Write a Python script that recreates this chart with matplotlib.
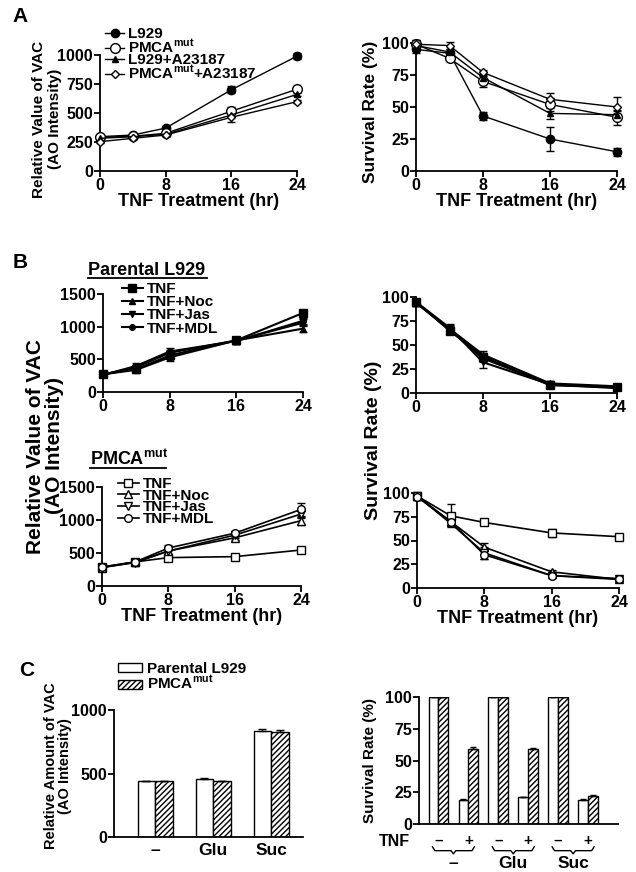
import numpy as np
import matplotlib
matplotlib.use('Agg')
import matplotlib.pyplot as plt
from matplotlib.lines import Line2D
from matplotlib.patches import Patch

plt.rcParams['font.family'] = ['Liberation Sans', 'DejaVu Sans']
plt.rcParams['font.weight'] = 'bold'
plt.rcParams['axes.labelweight'] = 'bold'
plt.rcParams['mathtext.fontset'] = 'custom'
plt.rcParams['mathtext.rm'] = 'Liberation Sans'
plt.rcParams['mathtext.bf'] = 'Liberation Sans:bold'
plt.rcParams['axes.linewidth'] = 1.3
plt.rcParams['hatch.linewidth'] = 1.0

MUT = r'PMCA$^{\mathregular{mut}}$'

# ---------------- data ----------------
hours = [0, 4, 8, 16, 24]

# A: VAC (AO intensity)
a_vac_l929 = [296, 310, 370, 700, 990]
a_vac_l929_err = [10, 10, 15, 30, 25]
a_vac_pmca = [290, 300, 325, 515, 705]
a_vac_pmca_err = [10, 10, 10, 40, 15]
a_vac_l929_a23 = [282, 296, 316, 483, 660]
a_vac_l929_a23_err = [10, 10, 10, 20, 15]
a_vac_pmca_a23 = [253, 282, 310, 463, 598]
a_vac_pmca_a23_err = [10, 10, 10, 40, 10]

# A: survival (%)
a_sv_l929 = [95, 92, 43, 25, 15]
a_sv_l929_err = [3, 2, 3, 9, 3]
a_sv_pmca = [99, 88, 70, 52, 42]
a_sv_pmca_err = [3, 2, 4, 5, 6]
a_sv_l929_a23 = [98, 93, 73, 45, 44]
a_sv_l929_a23_err = [3, 2, 3, 4, 3]
a_sv_pmca_a23 = [99, 98, 77, 56, 50]
a_sv_pmca_a23_err = [3, 3, 2, 5, 8]

# B: parental L929
bp_vac_tnf = [276, 350, 560, 790, 1210]
bp_vac_noc = [270, 340, 530, 790, 970]
bp_vac_jas = [265, 380, 600, 790, 1060]
bp_vac_mdl = [260, 400, 620, 780, 1090]
bp_vac_err = [25, 40, 50, 50, 50]

bp_sv_tnf = [95, 65, 38, 8, 6]
bp_sv_noc = [94, 67, 40, 10, 7]
bp_sv_jas = [95, 68, 32, 9, 6]
bp_sv_mdl = [94, 66, 36, 9, 5]
bp_sv_err = [3, 4, 4, 2, 2]
bp_sv_jas_err = [3, 4, 6, 2, 2]

# B: PMCA mut
bm_vac_tnf = [288, 365, 430, 445, 545]
bm_vac_tnf_err = [15, 15, 20, 15, 20]
bm_vac_noc = [280, 360, 530, 730, 990]
bm_vac_jas = [280, 355, 530, 770, 1090]
bm_vac_mdl = [285, 365, 575, 800, 1160]
bm_vac_err = [15, 15, 50, 40, 60]
bm_vac_mdl_err = [15, 15, 50, 40, 100]

bm_sv_tnf = [97, 76, 69, 58, 54]
bm_sv_tnf_err = [2, 12, 2, 4, 2]
bm_sv_noc = [97, 70, 43, 17, 9]
bm_sv_jas = [97, 68, 37, 13, 10]
bm_sv_jas_err = [2, 3, 6, 2, 2]
bm_sv_mdl = [96, 70, 35, 13, 9]

# C: sugars
c_groups = ['\u2013', 'Glu', 'Suc']
c_vac_parental = [441, 459, 835]
c_vac_parental_err = [3, 5, 15]
c_vac_pmca = [441, 441, 827]
c_vac_pmca_err = [3, 3, 15]

c_tnf = ['\u2013', '+', '\u2013', '+', '\u2013', '+']
c_sv_parental = [100, 19, 100, 21, 100, 19]
c_sv_parental_err = [0, 1, 0, 0.5, 0, 0.5]
c_sv_pmca = [100, 59, 100, 59, 100, 22]
c_sv_pmca_err = [0, 2, 0, 0.5, 0, 0.5]

# ---------------- figure ----------------
W, H = 636, 872
fig = plt.figure(figsize=(W / 100, H / 100), dpi=100)
BOLD = dict(fontweight='bold')
TICK = 11.5


def box(x0, y0, x1, y1):
    return fig.add_axes([x0 / W, 1 - y1 / H, (x1 - x0) / W, (y1 - y0) / H])


def ticks_bold(ax):
    for t in ax.get_xticklabels() + ax.get_yticklabels():
        t.set_fontweight('bold')


def style(ax, yticks, xticks=(0, 8, 16, 24)):
    for s in ['top', 'right']:
        ax.spines[s].set_visible(False)
    ax.tick_params(direction='out', length=4, width=1.3, labelsize=TICK, pad=1)
    ax.set_yticks(yticks)
    if xticks is not None:
        ax.set_xticks(xticks)
        ax.set_xlim(0, 24)
    ax.set_ylim(yticks[0], yticks[-1])
    ticks_bold(ax)


def series(ax, y, e, marker, filled, ms=6, lw=1.0):
    ax.errorbar(hours, y, yerr=e, marker=marker, color='black',
                mfc='black' if filled else 'white', mec='black', ms=ms,
                lw=lw, elinewidth=1, capsize=3, clip_on=False, zorder=3)


def handle(marker, filled, ms=6, lw=1.0):
    return Line2D([], [], color='black', marker=marker, ms=ms, lw=lw,
                  mfc='black' if filled else 'white', mec='black')


def legend(handles, labels, x, y, hl=1.25, sp=-0.2):
    fig.legend(handles, labels, loc='upper left', bbox_to_anchor=(x / W, 1 - y / H),
               frameon=False, prop=dict(size=11, weight='bold'), handlelength=hl,
               handletextpad=0.25, labelspacing=sp, borderpad=0, borderaxespad=0)


def ylabel(text, x, y, size, ls=1.0):
    fig.text(x / W, 1 - y / H, text, rotation=90, ha='center', va='center',
             fontsize=size, linespacing=ls, multialignment='center', **BOLD)


def xlabel(ax):
    ax.set_xlabel('TNF Treatment (hr)', fontsize=13, labelpad=0, **BOLD)


# ---- A left
ax = box(100, 55, 297, 171)
style(ax, [0, 250, 500, 750, 1000])
series(ax, a_vac_l929, a_vac_l929_err, 'o', True)
series(ax, a_vac_pmca, a_vac_pmca_err, 'o', False, ms=7)
series(ax, a_vac_l929_a23, a_vac_l929_a23_err, '^', True, ms=5)
series(ax, a_vac_pmca_a23, a_vac_pmca_a23_err, 'D', False, ms=4.5)
xlabel(ax)
legend([handle('o', True), handle('o', False, 7), handle('^', True, 5), handle('D', False, 4.5)],
       ['L929', MUT, 'L929+A23187', MUT + '+A23187'], 105, 27)
ylabel('Relative Value of VAC\n(AO Intensity)', 47, 119, 11, 1.25)

# ---- A right
ax = box(416, 43, 617, 171)
style(ax, [0, 25, 50, 75, 100])
series(ax, a_sv_l929, a_sv_l929_err, 'o', True)
series(ax, a_sv_pmca, a_sv_pmca_err, 'o', False, ms=7)
series(ax, a_sv_l929_a23, a_sv_l929_a23_err, '^', True, ms=5)
series(ax, a_sv_pmca_a23, a_sv_pmca_a23_err, 'D', False, ms=4.5)
xlabel(ax)
ylabel('Survival Rate (%)', 371, 112, 12.5)

# ---- B parental left
ax = box(103, 294, 303, 392)
style(ax, [0, 500, 1000, 1500])
series(ax, bp_vac_tnf, bp_vac_err, 's', True, ms=5.5, lw=1.5)
series(ax, bp_vac_noc, bp_vac_err, '^', True, ms=5, lw=1.5)
series(ax, bp_vac_jas, bp_vac_err, 'v', True, ms=5, lw=1.5)
series(ax, bp_vac_mdl, bp_vac_err, 'o', True, ms=4, lw=1.5)
legend([handle('s', True, 5.5, 1.5), handle('^', True, 5, 1.5), handle('v', True, 5, 1.5),
        handle('o', True, 4, 1.5)],
       ['TNF', 'TNF+Noc', 'TNF+Jas', 'TNF+MDL'], 122, 282, hl=1.35, sp=-0.05)

# ---- B parental right
ax = box(416, 297, 617, 393)
style(ax, [0, 25, 50, 75, 100])
series(ax, bp_sv_tnf, bp_sv_err, 's', True, ms=5.5, lw=1.5)
series(ax, bp_sv_noc, bp_sv_err, '^', True, ms=5, lw=1.5)
series(ax, bp_sv_jas, bp_sv_jas_err, 'v', True, ms=5, lw=1.5)
series(ax, bp_sv_mdl, bp_sv_err, 'o', True, ms=4, lw=1.5)

# ---- B PMCA left
ax = box(102, 487, 301, 586)
style(ax, [0, 500, 1000, 1500])
series(ax, bm_vac_tnf, bm_vac_tnf_err, 's', False, ms=6, lw=1.2)
series(ax, bm_vac_noc, bm_vac_err, '^', False, ms=6, lw=1.2)
series(ax, bm_vac_jas, bm_vac_err, 'v', False, ms=6, lw=1.2)
series(ax, bm_vac_mdl, bm_vac_mdl_err, 'o', False, ms=5.5, lw=1.2)
xlabel(ax)
legend([handle('s', False, 6, 1.2), handle('^', False, 6, 1.2), handle('v', False, 6, 1.2),
        handle('o', False, 5.5, 1.2)],
       ['TNF', 'TNF+Noc', 'TNF+Jas', 'TNF+MDL'], 118, 477, hl=1.35, sp=-0.15)

# ---- B PMCA right
ax = box(417, 493, 619, 588)
style(ax, [0, 25, 50, 75, 100])
series(ax, bm_sv_tnf, bm_sv_tnf_err, 's', False, ms=6, lw=1.2)
series(ax, bm_sv_noc, bp_sv_err, '^', False, ms=6, lw=1.2)
series(ax, bm_sv_jas, bm_sv_jas_err, 'v', False, ms=6, lw=1.2)
series(ax, bm_sv_mdl, bp_sv_err, 'o', False, ms=5.5, lw=1.2)
xlabel(ax)

ylabel('Relative Value of VAC\n(AO Intensity)', 45, 446, 15)
ylabel('Survival Rate (%)', 374, 440, 14)

# B subtitles (underlined)
fig.text(88 / W, 1 - 275 / H, 'Parental L929', fontsize=13, ha='left', va='baseline', **BOLD)
fig.add_artist(Line2D([88 / W, 207 / W], [1 - 278 / H] * 2, color='black', lw=1.3))
fig.text(90 / W, 1 - 465 / H, MUT, fontsize=13, ha='left', va='baseline', **BOLD)
fig.add_artist(Line2D([90 / W, 166 / W], [1 - 468 / H] * 2, color='black', lw=1.3))

# ---- C left
ax = box(114, 710, 303, 837)
for s in ['top', 'right']:
    ax.spines[s].set_visible(False)
xg = np.arange(1, len(c_groups) + 1)
bw = 0.3
ax.bar(xg - bw / 2, c_vac_parental, bw, color='white', edgecolor='black', lw=1,
       yerr=[np.zeros(3), c_vac_parental_err], capsize=3, error_kw=dict(lw=1, capthick=1))
ax.bar(xg + bw / 2, c_vac_pmca, bw, color='white', edgecolor='black', lw=1, hatch='//////',
       yerr=[np.zeros(3), c_vac_pmca_err], capsize=3, error_kw=dict(lw=1, capthick=1))
ax.set_xlim(0.29, 3.55)
ax.set_ylim(0, 1000)
ax.set_yticks([0, 500, 1000])
ax.set_xticks(xg)
ax.set_xticklabels(c_groups, fontsize=12.5)
ax.tick_params(axis='y', direction='out', length=4, width=1.3, labelsize=TICK, pad=1)
ax.tick_params(axis='x', length=0, pad=4)
ticks_bold(ax)
fig.legend([Patch(facecolor='white', edgecolor='black'),
            Patch(facecolor='white', edgecolor='black', hatch='//////')],
           ['Parental L929', MUT], loc='upper left', bbox_to_anchor=(118 / W, 1 - 662 / H),
           frameon=False, prop=dict(size=11, weight='bold'), handlelength=1.6, handleheight=0.55,
           handletextpad=0.3, labelspacing=-0.1, borderpad=0, borderaxespad=0)
ylabel('Relative Amount of VAC\n(AO Intensity)', 58, 766, 10.5, 1.05)

# ---- C right
ax = box(419, 697, 618, 824)
for s in ['top', 'right']:
    ax.spines[s].set_visible(False)
xc = np.arange(len(c_tnf))
bw = 0.33
ax.bar(xc - bw / 2, c_sv_parental, bw, color='white', edgecolor='black', lw=1,
       yerr=[np.zeros(6), c_sv_parental_err], capsize=2.5, error_kw=dict(lw=1, capthick=1))
ax.bar(xc + bw / 2, c_sv_pmca, bw, color='white', edgecolor='black', lw=1, hatch='//////',
       yerr=[np.zeros(6), c_sv_pmca_err], capsize=2.5, error_kw=dict(lw=1, capthick=1))
ax.set_xlim(-0.65, 6.0)
ax.set_ylim(0, 100)
ax.set_yticks([0, 25, 50, 75, 100])
ax.set_xticks([])
ax.tick_params(axis='y', direction='out', length=4, width=1.3, labelsize=TICK, pad=1)
ticks_bold(ax)
tr = ax.get_xaxis_transform()
ax.text(-0.95, -0.135, 'TNF', transform=tr, ha='right', va='center', fontsize=11.5, **BOLD)
for x, s in zip(xc, c_tnf):
    ax.text(x, -0.135, s, transform=tr, ha='center', va='center', fontsize=11, **BOLD)
for g, name in enumerate(c_groups):
    a, b = 2 * g - 0.2, 2 * g + 1.2
    m = (a + b) / 2
    ax.plot([a, a + 0.08, m - 0.08, m, m + 0.08, b - 0.08, b],
            [-0.18, -0.21, -0.21, -0.235, -0.21, -0.21, -0.18],
            transform=tr, color='black', lw=1, clip_on=False)
    ax.text(m, -0.31, name, transform=tr, ha='center', va='center', fontsize=12.5, **BOLD)
ylabel('Survival Rate (%)', 370, 760, 11)

# panel letters
fig.text(20 / W, 1 - 17 / H, 'A', fontsize=15, ha='center', va='center', **BOLD)
fig.text(20 / W, 1 - 262 / H, 'B', fontsize=15, ha='center', va='center', **BOLD)
fig.text(27 / W, 1 - 670 / H, 'C', fontsize=15, ha='center', va='center', **BOLD)

fig.savefig('out.png', dpi=100)
